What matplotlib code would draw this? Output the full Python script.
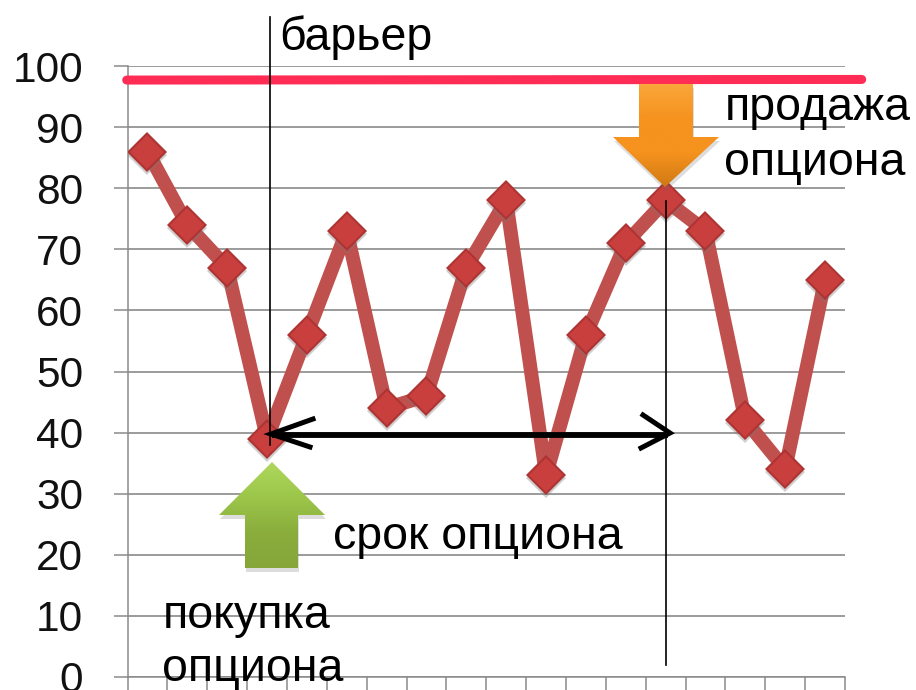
import numpy as np
import matplotlib
matplotlib.use("Agg")
import matplotlib.pyplot as plt
from matplotlib.colors import LinearSegmentedColormap
from matplotlib.patches import Polygon

W, H = 916, 690

# chart values
prices = [86, 74, 67, 39, 56, 73, 44, 46, 67, 78, 33, 56, 71, 78, 73, 42, 34, 65]
y_ticks = [0, 10, 20, 30, 40, 50, 60, 70, 80, 90, 100]
barrier_x = [-0.02, 18.42]
barrier_y = [97.7, 97.8]

plt.rcParams["font.family"] = ["Liberation Sans", "DejaVu Sans"]

fig = plt.figure(figsize=(W / 100, H / 100), dpi=100)
ax = fig.add_axes([127.5 / W, (H - 677) / H, 717.5 / W, 611 / H])

grid_col = "#8a8a8a"
x = np.arange(len(prices)) + 0.5
ax.set_xlim(0, len(prices))
ax.set_ylim(0, 100)
ax.set_yticks(y_ticks)
ax.set_xticks(np.arange(len(prices) + 1))
ax.set_xticklabels([])
ax.grid(axis="y", color=grid_col, lw=1.2)
ax.set_axisbelow(True)
ax.tick_params(axis="y", length=10, width=1.1, color=grid_col, labelsize=30.5, pad=22, labelcolor="#111111")
ax.tick_params(axis="x", length=9.5, width=1.1, color=grid_col)
for side in ["top", "right"]:
    ax.spines[side].set_visible(False)
for side in ["left", "bottom"]:
    ax.spines[side].set_color(grid_col)
    ax.spines[side].set_linewidth(1.1)

ax.plot(x, prices, color="#c0504d", lw=10, solid_joinstyle="round", zorder=3)
# markers: soft shadow, dark rim, lighter centre
ax.plot(x, np.array(prices) - 0.5, ls="", marker="D", ms=20.5, color="#777777", alpha=0.35, mew=0, zorder=4)
ax.plot(x, prices, ls="", marker="D", ms=20, mfc="#ad3433", mec="#ad3433", mew=0, zorder=5)
ax.plot(x, prices, ls="", marker="D", ms=17, mfc="#c93f3e", mec="#c93f3e", mew=0, zorder=6)
ax.plot(barrier_x, barrier_y, color="#ff2d55", lw=6.5, solid_capstyle="round", clip_on=False, zorder=7)

# overlay in pixel coordinates for the hand drawn annotations
ov = fig.add_axes([0, 0, 1, 1], facecolor="none")
ov.axis("off")


def block_arrow(pts, colours, extent):
    shadow = Polygon(np.array(pts) + [1, 4], closed=True, fc="#666666", ec="none", alpha=0.22)
    ov.add_patch(shadow)
    cmap = LinearSegmentedColormap.from_list("arrow", colours)
    img = ov.imshow(np.linspace(0, 1, 64)[:, None], cmap=cmap, extent=extent, aspect="auto", zorder=3)
    outline = Polygon(pts, closed=True, fc="none", ec="none", transform=ov.transData)
    ov.add_patch(outline)
    img.set_clip_path(outline)


# green "buy" arrow
block_arrow(
    [(272, 462), (325, 515), (298, 515), (298, 568), (245, 568), (245, 515), (219, 515)],
    ["#aed85c", "#9cc64a", "#8aad3c", "#86a63a"],
    (215, 330, 568, 462),
)
# orange "sell" arrow
block_arrow(
    [(639, 84), (693, 84), (693, 137), (719, 137), (665, 187), (613, 137), (639, 137)],
    ["#f9a63a", "#f6921e", "#f6921e", "#d07a14"],
    (610, 722, 187, 84),
)

# thin vertical markers
ov.plot([269.5, 269.5], [17, 445], color="black", lw=1.2, zorder=5)
ov.plot([665.5, 665.5], [201, 665], color="black", lw=1.2, zorder=5)

# term arrow
ov.plot([272, 668], [434.5, 434.5], color="black", lw=4.2, zorder=6, solid_capstyle="butt")
ov.plot([313, 271, 310], [419, 434, 447], color="black", lw=3.6, zorder=6, solid_joinstyle="miter")
ov.plot([643, 670, 641], [415, 433, 448], color="black", lw=3.6, zorder=6, solid_joinstyle="miter")

labels = [
    ("барьер", 279, 50),
    ("продажа", 725, 120),
    ("опциона", 724, 175),
    ("срок опциона", 333, 549),
    ("покупка", 163, 628),
    ("опциона", 162, 681),
]
for text, tx, ty in labels:
    ov.text(tx, ty, text, fontsize=33.5, ha="left", va="baseline", color="black", zorder=8, clip_on=False)

ov.set_xlim(0, W)
ov.set_ylim(H, 0)

fig.savefig("out.png", dpi=100)
